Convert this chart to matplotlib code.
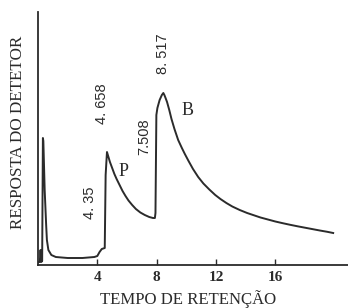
import matplotlib
matplotlib.use("Agg")
import matplotlib.pyplot as plt

# tempo de retencao (min) e resposta do detetor (unidades arbitrarias)
tempo = [0.0, 0.12, 0.17, 0.22, 0.28, 0.33, 0.36, 0.45, 0.55, 0.6, 0.7, 0.9,
         1.2, 2.0, 3.0, 3.8, 4.0, 4.15, 4.3, 4.5, 4.56, 4.65,
         4.75, 4.85, 5.0, 5.15, 5.3, 5.5, 5.7, 5.9, 6.1, 6.35, 6.6, 6.9,
         7.2, 7.5, 7.75, 7.88, 7.92, 7.98, 8.05, 8.2, 8.35, 8.45,
         8.52, 8.6, 8.7, 8.85, 9.0, 9.2, 9.45, 9.7, 9.9, 10.15, 10.45,
         10.8, 11.15, 11.55, 11.95, 12.3, 12.7, 13.1, 13.6, 14.1, 14.6,
         15.0, 15.5, 16.0, 16.5, 17.0, 17.5, 18.0, 18.5, 19.0, 19.5, 19.9]
resposta = [3, 3, 15, 3, 4, 127, 124, 75, 40, 25, 15, 10,
            8, 7, 7, 8, 9, 13, 16, 17, 90, 113,
            108, 103, 97, 91, 86, 80, 74, 69, 64.5, 60, 56, 52.5,
            50, 48, 47, 47, 52, 150, 157, 165, 170, 172,
            170, 167, 163, 155, 146, 136, 125, 117, 111, 104, 96,
            88, 81.5, 75.5, 70, 66, 62, 58.5, 55, 52, 49.5,
            47.5, 45.5, 43.5, 41.8, 40.2, 38.7, 37.3, 35.9, 34.5, 33.2, 32]

# rotulos dos picos: texto, posicao (tempo, resposta)
picos_txt = ["4. 35", "4. 658", "7.508", "8. 517"]
picos_t = [3.5, 4.32, 7.15, 8.4]
picos_r = [62, 161, 128, 211]

# identificacao dos compostos
comp_txt = ["P", "B"]
comp_t = [5.75, 10.1]
comp_r = [93, 155]

ticks_x = [4, 8, 12, 16]

fig = plt.figure(figsize=(3.48, 3.08), dpi=100)
ax = fig.add_axes([38/348, 43/308, 310/348, 253/308])

cor = "#2b2b2b"
ax.plot(tempo, resposta, color=cor, lw=1.4, solid_joinstyle="round")

for txt, x, y in zip(picos_txt, picos_t, picos_r):
    ax.text(x, y, txt, rotation=90, ha="center", va="center",
            fontsize=10.5, family="Liberation Sans", color=cor)

for txt, x, y in zip(comp_txt, comp_t, comp_r):
    ax.text(x, y, txt, ha="center", va="center", fontsize=13,
            family="Liberation Serif", color=cor)

ax.set_xlim(0, 20.9)
ax.set_ylim(0, 253)
ax.set_xticks(ticks_x)
ax.set_xticklabels([str(v) for v in ticks_x], family="Liberation Serif",
                   fontweight="bold", fontsize=11, color=cor)
ax.set_yticks([])
ax.tick_params(axis="x", direction="in", length=4, width=1, color=cor, pad=4)

ax.spines["top"].set_visible(False)
ax.spines["right"].set_visible(False)
for s in ["left", "bottom"]:
    ax.spines[s].set_color(cor)
    ax.spines[s].set_linewidth(1.3)

fig.text(18/348, 1 - 132/308, "RESPOSTA DO DETETOR", rotation=90,
         ha="center", va="center", fontsize=12.3, family="Liberation Serif",
         color=cor)
fig.text(188/348, 4/308, "TEMPO DE RETENÇÃO", ha="center", va="baseline",
         fontsize=12.1, family="Liberation Serif", color=cor)

fig.savefig("out.png", dpi=100)
